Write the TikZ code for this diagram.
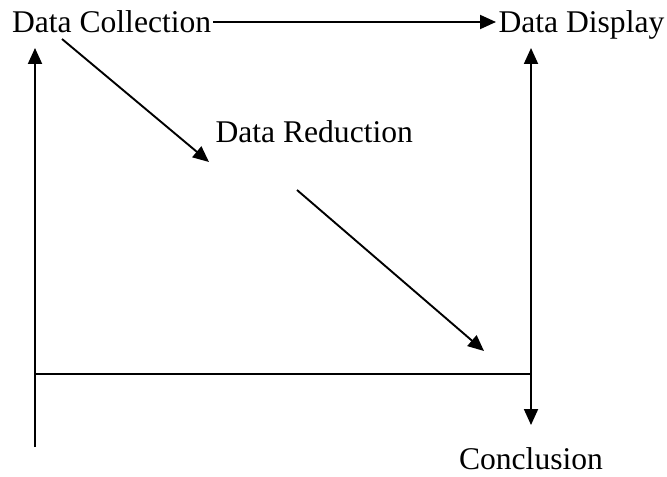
\documentclass[tikz,border=0pt]{standalone}
\usepackage{fontspec}
\setmainfont{Liberation Serif}
\usetikzlibrary{arrows.meta}
\begin{document}
\begin{tikzpicture}[x=0.5pt,y=-0.5pt,
  lbl/.style={inner sep=0pt,outer sep=0pt,font=\fontsize{15.8}{19}\selectfont},
  conn/.style={line width=0.95pt},
  arr/.style={conn,-{Triangle[length=8pt,width=7pt]}},
  darr/.style={conn,{Triangle[length=8pt,width=7pt]}-{Triangle[length=8pt,width=7pt]}}]
\useasboundingbox (0,0) rectangle (667,476);
\node[lbl,anchor=base west] (dc) at (12,33) {Data Collection};
\node[lbl,anchor=base west] (dd) at (498.5,33) {Data Display};
\node[lbl,anchor=base west] (dr) at (215.5,142) {Data Reduction};
\node[lbl,anchor=base] (con) at (531,469) {Conclusion};
\coordinate (h1) at (213,22);
\coordinate (h2) at (496,22);
\coordinate (l1) at (35,447);
\coordinate (l2) at (35,48);
\coordinate (r1) at (531,48);
\coordinate (r2) at (531,425);
\coordinate (b1) at (35,374);
\coordinate (b2) at (531,374);
\coordinate (d1) at (62,39);
\coordinate (d2) at (209,162);
\coordinate (e1) at (297,190);
\coordinate (e2) at (484,351);
\draw[arr] (h1) -- (h2);
\draw[arr] (l1) -- (l2);
\draw[darr] (r1) -- (r2);
\draw[conn] (b1) -- (b2);
\draw[arr] (d1) -- (d2);
\draw[arr] (e1) -- (e2);
\end{tikzpicture}
\end{document}
